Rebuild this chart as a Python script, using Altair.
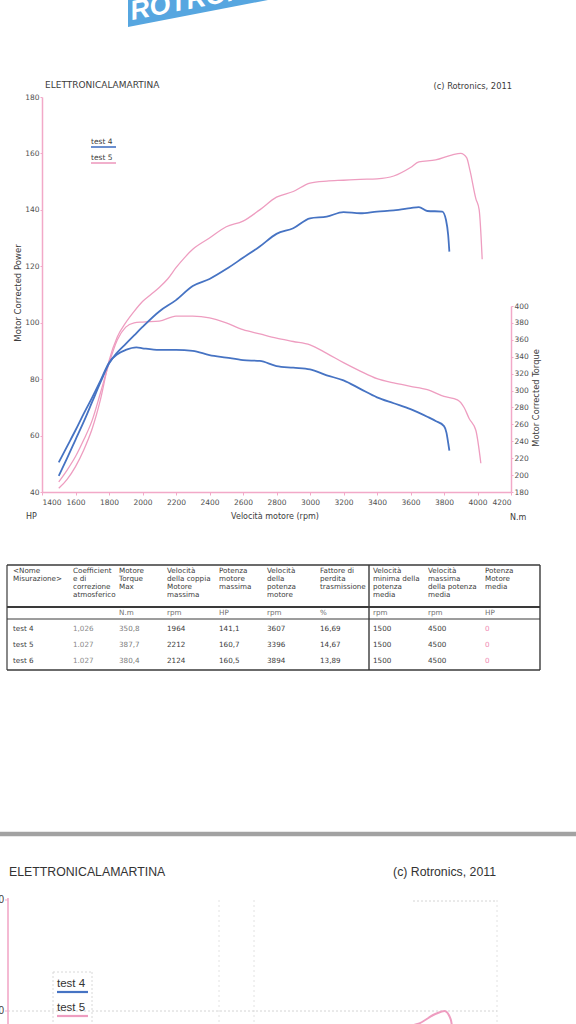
import altair as alt
import pandas as pd

# ------------------------------------------------------------------ data
t4_power_rpm = [1500, 1550, 1600, 1650, 1700, 1750, 1800, 1850, 1900, 1950,
                2000, 2100, 2200, 2300, 2400, 2500, 2600, 2700, 2800, 2900,
                3000, 3100, 3200, 3300, 3400, 3500, 3600, 3650, 3700, 3790,
                3812, 3825, 3832]
t4_power_hp = [45.7, 52.0, 58.5, 65.0, 72.0, 79.0, 85.5, 89.5, 92.5, 95.5,
               98.5, 104.0, 108.0, 113.0, 115.5, 119.0, 123.0, 127.0, 131.5, 133.5,
               137.0, 137.6, 139.2, 138.8, 139.4, 139.8, 140.6, 141.0, 139.6, 139.4,
               136.4, 131.0, 125.2]

t4_torque_rpm = [1500, 1550, 1600, 1650, 1700, 1750, 1800, 1850, 1900, 1964,
                 2000, 2100, 2200, 2300, 2400, 2500, 2600, 2700, 2800, 2900,
                 3000, 3100, 3200, 3300, 3400, 3500, 3600, 3700, 3750, 3800,
                 3815, 3825, 3832]
t4_torque_nm = [215, 234, 253, 273, 292, 312, 333, 343, 348, 351,
                350, 348, 348, 347, 342, 339, 336, 335, 329, 327,
                325, 318, 312, 302, 292, 285, 278, 269, 264, 258,
                250, 238, 229]

t5_power_rpm = [1500, 1550, 1600, 1650, 1700, 1750, 1800, 1850, 1900, 1950,
                2000, 2050, 2100, 2150, 2200, 2250, 2300, 2400, 2500, 2600,
                2700, 2800, 2900, 3000, 3100, 3200, 3300, 3400, 3500, 3600,
                3650, 3750, 3850, 3900, 3935, 3955, 3990, 4010, 4028]
t5_power_hp = [41.3, 44.5, 49.0, 55.0, 62.5, 73.0, 86.5, 95.0, 100.0, 104.0,
               107.5, 110.0, 112.5, 115.5, 119.5, 123.0, 126.0, 130.0, 134.0, 136.0,
               140.0, 144.5, 146.5, 149.5, 150.2, 150.5, 150.8, 151.0, 152.0, 155.0,
               157.0, 157.7, 159.5, 160.0, 158.5, 154.0, 144.0, 140.0, 122.5]

t5_torque_rpm = [1500, 1550, 1600, 1650, 1700, 1750, 1800, 1850, 1900, 1950,
                 2000, 2100, 2200, 2300, 2400, 2500, 2600, 2700, 2800, 2900,
                 3000, 3100, 3200, 3300, 3400, 3500, 3600, 3700, 3800, 3880,
                 3920, 3950, 3990, 4020]
t5_torque_nm = [192, 206, 222, 242, 265, 298, 332, 360, 375, 380,
                381, 382, 388, 388, 386, 380, 372, 367, 362, 358,
                354, 344, 333, 323, 314, 309, 305, 301, 293, 289,
                280, 267, 253, 214]

rpm_ticks = list(range(1400, 4201, 200))
hp_ticks = list(range(40, 181, 20))
nm_ticks = list(range(180, 401, 20))
series_names = ["test 4", "test 5"]

# table content
table_headers = [
    ["<Nome", "Misurazione>"],
    ["Coefficient", "e di", "correzione", "atmosferico"],
    ["Motore", "Torque", "Max"],
    ["Velocità", "della coppia", "Motore", "massima"],
    ["Potenza", "motore", "massima"],
    ["Velocità", "della", "potenza", "motore"],
    ["Fattore di", "perdita", "trasmissione"],
    ["Velocità", "minima della", "potenza", "media"],
    ["Velocità", "massima", "della potenza", "media"],
    ["Potenza", "Motore", "media"],
]
table_units = ["", "", "N.m", "rpm", "HP", "rpm", "%", "rpm", "rpm", "HP"]
row_names = ["test 4", "test 5", "test 6"]
coef_corr = ["1,026", "1.027", "1.027"]
torque_max = ["350,8", "387,7", "380,4"]
rpm_torque_max = ["1964", "2212", "2124"]
power_max = ["141,1", "160,7", "160,5"]
rpm_power_max = ["3607", "3396", "3894"]
loss_factor = ["16,69", "14,67", "13,89"]
rpm_min_avg = ["1500", "1500", "1500"]
rpm_max_avg = ["4500", "4500", "4500"]
power_avg = ["0", "0", "0"]
table_columns = [row_names, coef_corr, torque_max, rpm_torque_max, power_max,
                 rpm_power_max, loss_factor, rpm_min_avg, rpm_max_avg, power_avg]

# ------------------------------------------------------------------ layout / style
W, H = 576, 1024
OX, OY = 42, 97                 # page position of main plot origin
PW, PH = 511 - OX, 492 - OY     # main plot size
BLUE = "#4673c3"
PINK = "#ee9dc0"
AXPINK = "#f2a9c8"
TXT = "#3c3c3c"
FONT = "DejaVu Sans"
FONT2 = "Liberation Sans"
LOGO = "#56a6e0"

col_x = [13, 73, 119, 167, 219, 267, 320, 373, 428, 485]
head_y0, head_dy = 571, 8
unit_y = 613
row_y = [629, 645, 661]
row_colors = [TXT, "#8a8a8a", "#7a7a7a", TXT, TXT, TXT, TXT, TXT, TXT, "#f08ab2"]


def px(x):
    return x - OX


def py(y):
    return y - OY


def label(text, x, y, size, font=FONT, color=TXT, align="left", angle=0,
          weight="normal", style="normal"):
    kw = dict(align=align, baseline="middle", font=font, fontSize=size,
              color=color, fontWeight=weight, fontStyle=style)
    if angle:
        kw["angle"] = angle
    return alt.Chart(pd.DataFrame({"t": [text]})).mark_text(**kw).encode(
        x=alt.value(px(x)), y=alt.value(py(y)), text="t:N")


def segs(rows, color, dash=None):
    df = pd.DataFrame(rows, columns=["x", "x2", "y", "y2", "w"])
    df["x"] = df["x"] - OX
    df["x2"] = df["x2"] - OX
    df["y"] = df["y"] - OY
    df["y2"] = df["y2"] - OY
    kw = dict(color=color)
    if dash:
        kw["strokeDash"] = dash
    return alt.Chart(df).mark_rule(**kw).encode(
        x=alt.X("x:Q", scale=None, axis=None),
        x2="x2:Q",
        y=alt.Y("y:Q", scale=None, axis=None),
        y2="y2:Q",
        size=alt.Size("w:Q", scale=None, legend=None),
    )


# ------------------------------------------------------------------ main curves
rpm_scale = alt.Scale(domain=[1400, 4200], nice=False, zero=False)
hp_scale = alt.Scale(domain=[40, 180], nice=False, zero=False)
nm_scale = alt.Scale(domain=[180, 400], range=[PH, py(306)], nice=False, zero=False)

x_axis = alt.Axis(values=rpm_ticks, format="d", orient="bottom", domainColor=AXPINK,
                  domainWidth=1.5, tickColor=AXPINK, tickSize=3, labelColor="#505050",
                  labelFont=FONT, labelFontSize=7.5, labelPadding=3, grid=False, title=None)
hp_axis = alt.Axis(values=hp_ticks, format="d", orient="left", domainColor=AXPINK,
                   domainWidth=1.5, tickColor=AXPINK, tickSize=2, labelColor="#505050",
                   labelFont=FONT, labelFontSize=7.5, labelPadding=1, grid=False, title=None)
nm_axis = alt.Axis(values=nm_ticks, format="d", orient="right", domainColor=AXPINK,
                   domainWidth=1.5, tickColor=AXPINK, tickSize=2, labelColor="#505050",
                   labelFont=FONT, labelFontSize=7.5, labelPadding=1, grid=False, title=None)


def curve(rpm, vals, color, width, yscale, xaxis=None, yaxis=None, xscale=None):
    df = pd.DataFrame({"rpm": rpm, "v": vals})
    return alt.Chart(df).mark_line(color=color, strokeWidth=width, interpolate="monotone").encode(
        x=alt.X("rpm:Q", scale=xscale if xscale is not None else rpm_scale, axis=xaxis),
        y=alt.Y("v:Q", scale=yscale, axis=yaxis),
    )


c_t5_power = curve(t5_power_rpm, t5_power_hp, PINK, 1.3, hp_scale)
c_t5_torque = curve(t5_torque_rpm, t5_torque_nm, PINK, 1.3, nm_scale)
c_t4_power = curve(t4_power_rpm, t4_power_hp, BLUE, 1.8, hp_scale, xaxis=x_axis, yaxis=hp_axis)
c_t4_torque = curve(t4_torque_rpm, t4_torque_nm, BLUE, 1.8, nm_scale, yaxis=nm_axis)

# bottom (second page) copy of the power chart, only its top is on screen
b_rpm_scale = alt.Scale(domain=[1400, 4200], range=[px(8), px(497)], nice=False, zero=False)
b_hp_scale = alt.Scale(domain=[40, 180], range=[py(1677), py(900)], nice=False, zero=False)
b_t4 = curve(t4_power_rpm, t4_power_hp, BLUE, 2, b_hp_scale, xscale=b_rpm_scale)
b_t5 = curve(t5_power_rpm, t5_power_hp, PINK, 2, b_hp_scale, xscale=b_rpm_scale)

# ------------------------------------------------------------------ logo
logo_df = pd.DataFrame({"x": [px(128), px(268)], "y": [py(27), py(0)], "y2": [py(0), py(0)]})
logo_area = alt.Chart(logo_df).mark_area(color=LOGO, interpolate="linear").encode(
    x=alt.X("x:Q", scale=None, axis=None),
    y=alt.Y("y:Q", scale=None, axis=None),
    y2="y2:Q",
)
logo_text = alt.Chart(pd.DataFrame({"t": ["ROTRONICS"]})).mark_text(
    align="left", baseline="alphabetic", font=FONT2, fontSize=27, fontWeight="bold",
    fontStyle="italic", color="white", angle=349).encode(
    x=alt.value(px(132)), y=alt.value(py(20)), text="t:N")

# ------------------------------------------------------------------ table
cells = []
for ci, lines in enumerate(table_headers):
    for li, s in enumerate(lines):
        cells.append((s, col_x[ci], head_y0 + li * head_dy, TXT))
    if table_units[ci]:
        cells.append((table_units[ci], col_x[ci], unit_y, "#707070"))
    for ri, s in enumerate(table_columns[ci]):
        cells.append((s, col_x[ci], row_y[ri], row_colors[ci]))
cell_df = pd.DataFrame(cells, columns=["t", "x", "y", "c"])
cell_df["x"] = cell_df["x"] - OX
cell_df["y"] = cell_df["y"] - OY
table_text = alt.Chart(cell_df).mark_text(align="left", baseline="middle", font=FONT,
                                          fontSize=7.2).encode(
    x=alt.X("x:Q", scale=None, axis=None),
    y=alt.Y("y:Q", scale=None, axis=None),
    color=alt.Color("c:N", scale=None, legend=None),
    text="t:N",
)
table_lines = segs([
    (7, 540, 565, 565, 1.4),
    (7, 540, 670, 670, 1.4),
    (7, 7, 565, 670, 1.2),
    (540, 540, 565, 670, 1.4),
    (369, 369, 565, 670, 1.4),
    (7, 540, 607, 607, 2.0),
    (7, 540, 619, 619, 1.0),
], "#3a3a3a")

# ------------------------------------------------------------------ decorations
legend_main = segs([(91, 116, 147, 147, 1.6)], BLUE)
legend_main2 = segs([(91, 116, 163, 163, 1.6)], PINK)
sep = segs([(0, 576, 834, 834, 4.5)], "#a2a2a2")
b_axis = segs([(8, 8, 898, 1024, 1.6), (5, 8, 900, 900, 1), (5, 8, 1011, 1011, 1)], AXPINK)
b_grid = segs([(8, 497, 1011, 1011, 1), (413, 497, 901, 901, 1)], "#d4d4d4", dash=[2, 2])
b_vgrid = segs([(219, 219, 900, 1024, 1), (254, 254, 900, 1024, 1), (497, 497, 900, 1024, 1)],
               "#e2e2e2", dash=[2, 3])
b_legbox = segs([(53, 92, 972, 972, 1), (53, 53, 972, 1024, 1), (92, 92, 972, 1024, 1)],
                "#d8d8d8", dash=[2, 2])
b_leg1 = segs([(57, 88, 992, 992, 2.2)], BLUE)
b_leg2 = segs([(57, 88, 1016, 1016, 2.2)], PINK)

texts = [
    label("ELETTRONICALAMARTINA", 45, 85, 9),
    label("(c) Rotronics, 2011", 512, 87, 8.3, align="right"),
    label(series_names[0], 91, 142, 7.5),
    label(series_names[1], 91, 158, 7.5),
    label("Motor Corrected Power", 18, 293, 8.5, align="center", angle=270),
    label("Motor Corrected Torque", 537, 398, 8.3, align="center", angle=270),
    label("HP", 26, 517, 8),
    label("Velocità motore (rpm)", 275, 517, 8, align="center"),
    label("N.m", 510, 518, 8),
    label("ELETTRONICALAMARTINA", 9, 872, 12.3, font=FONT2, color="#333333"),
    label("(c) Rotronics, 2011", 496, 872, 12.3, font=FONT2, color="#333333", align="right"),
    label("180", 4, 900, 10, font=FONT2, align="right"),
    label("160", 4, 1011, 10, font=FONT2, align="right"),
    label(series_names[0], 57, 984, 11.5, font=FONT2, color="#333333"),
    label(series_names[1], 57, 1008, 11.5, font=FONT2, color="#333333"),
]

chart = alt.layer(
    logo_area, logo_text,
    c_t5_power, c_t5_torque, c_t4_power, c_t4_torque,
    legend_main, legend_main2,
    table_lines, table_text,
    sep, b_vgrid, b_grid, b_legbox, b_axis, b_leg1, b_leg2, b_t4, b_t5,
    *texts,
).resolve_scale(
    x="independent", y="independent"
).properties(
    width=PW, height=PH,
    padding={"left": OX, "top": OY, "right": W - OX - PW, "bottom": H - OY - PH},
    autosize=alt.AutoSizeParams(type="none"),
    background="white",
).configure_view(stroke=None)

chart.save("out.html", embed_options={"renderer": "svg", "actions": False})
